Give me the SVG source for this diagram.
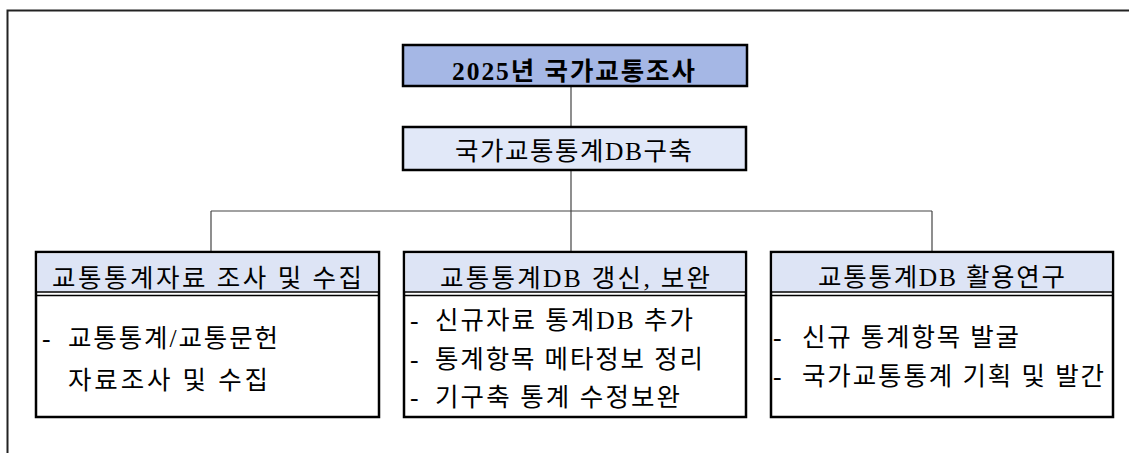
<svg xmlns="http://www.w3.org/2000/svg" width="1129" height="453" viewBox="0 0 1129 453">
<style>
  .box{stroke:#000;stroke-width:2.5}
  .conn{stroke:#444;stroke-width:1.2;fill:none}
  .t{font-family:"Liberation Serif","Noto Sans CJK KR",serif;font-size:25.5px;fill:#000}
  .dbl{stroke:#000;stroke-width:1.3}
</style>
<rect width="1129" height="453" fill="#fff"/>
<path d="M7.5 453 V10.5 H1129" fill="none" stroke="#222" stroke-width="2"/>
<g id="connectors">
  <line class="conn" x1="571" y1="86" x2="571" y2="127"/>
  <line class="conn" x1="571" y1="170" x2="571" y2="252"/>
  <line class="conn" x1="211" y1="211" x2="932" y2="211"/>
  <line class="conn" x1="211" y1="211" x2="211" y2="252"/>
  <line class="conn" x1="932" y1="211" x2="932" y2="252"/>
</g>
<g id="root">
  <rect class="box" x="403" y="45" width="344" height="41" fill="#A5B7E5"/>
  <text class="t" x="452" y="79.5" font-weight="bold" font-size="28" textLength="243" lengthAdjust="spacing">2025년 국가교통조사</text>
</g>
<g id="db">
  <rect class="box" x="403" y="127" width="343" height="43" fill="#E1E8F8"/>
  <text class="t" x="455" y="160" textLength="237" lengthAdjust="spacing">국가교통통계DB구축</text>
</g>
<g id="collect">
  <rect class="box" x="36" y="252" width="343" height="165" fill="#fff"/>
  <rect x="37.5" y="253.5" width="340" height="38" fill="#DDE4F5"/>
  <line class="dbl" x1="37" y1="292" x2="378" y2="292"/>
  <line class="dbl" x1="37" y1="295.5" x2="378" y2="295.5"/>
  <text class="t" x="52" y="286.5" textLength="310" lengthAdjust="spacing">교통통계자료 조사 및 수집</text>
  <text class="t" x="42" y="346.5">-</text>
  <text class="t" x="68" y="346.5" textLength="210" lengthAdjust="spacing">교통통계/교통문헌</text>
  <text class="t" x="68" y="388.5" textLength="200" lengthAdjust="spacing">자료조사 및 수집</text>
</g>
<g id="update">
  <rect class="box" x="404" y="252" width="342" height="165" fill="#fff"/>
  <rect x="405.5" y="253.5" width="339" height="38" fill="#DDE4F5"/>
  <line class="dbl" x1="405" y1="292" x2="745" y2="292"/>
  <line class="dbl" x1="405" y1="295.5" x2="745" y2="295.5"/>
  <text class="t" x="440" y="286.5" textLength="270" lengthAdjust="spacing">교통통계DB 갱신, 보완</text>
  <text class="t" x="410" y="328.5">-</text>
  <text class="t" x="435" y="328.5" textLength="258" lengthAdjust="spacing">신규자료 통계DB 추가</text>
  <text class="t" x="410" y="368">-</text>
  <text class="t" x="435" y="368" textLength="268" lengthAdjust="spacing">통계항목 메타정보 정리</text>
  <text class="t" x="410" y="406">-</text>
  <text class="t" x="435" y="406" textLength="245" lengthAdjust="spacing">기구축 통계 수정보완</text>
</g>
<g id="research">
  <rect class="box" x="771" y="252" width="342" height="165" fill="#fff"/>
  <rect x="772.5" y="253.5" width="339" height="38" fill="#DDE4F5"/>
  <line class="dbl" x1="772" y1="292" x2="1112" y2="292"/>
  <line class="dbl" x1="772" y1="295.5" x2="1112" y2="295.5"/>
  <text class="t" x="818" y="286" textLength="247" lengthAdjust="spacing">교통통계DB 활용연구</text>
  <text class="t" x="773" y="346">-</text>
  <text class="t" x="802" y="346" textLength="217" lengthAdjust="spacing">신규 통계항목 발굴</text>
  <text class="t" x="773" y="385">-</text>
  <text class="t" x="802" y="385" textLength="302" lengthAdjust="spacing">국가교통통계 기획 및 발간</text>
</g>
</svg>
